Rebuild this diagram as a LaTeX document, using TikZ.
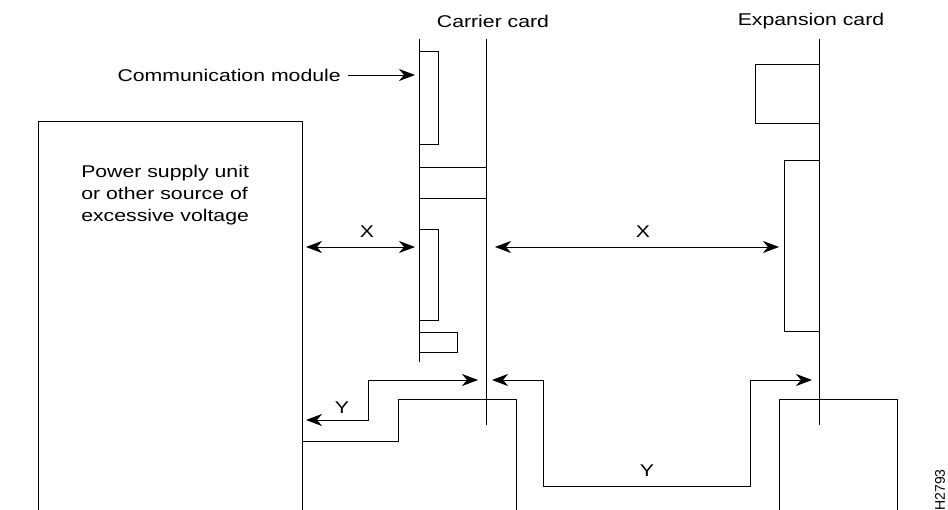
\documentclass[tikz,border=0pt]{standalone}
\usepackage{fontspec}
\setmainfont{Liberation Sans}
\usetikzlibrary{arrows.meta}

\tikzset{
  lbl/.style={inner sep=0pt, xscale=1.25, font=\fontsize{17}{22}\selectfont},
  wire/.style={line width=0.8pt},
  part/.style={line width=1pt},
  dim/.style={line width=0.8pt, >={Stealth[length=16pt,width=12pt,inset=5pt]}}
}

\begin{document}
\begin{tikzpicture}[x=1pt, y=-1pt]
            \useasboundingbox (0,0) rectangle (948,510);
            %schede
            \draw[wire] (486, 39) -- (486, 425);
            \draw[wire] (419, 39) -- (419, 362);
            \draw[wire] (819, 39) -- (819, 425);
            %componenti
            \draw[part] (419, 52) rectangle (438, 145);
            \draw[part] (419, 168) rectangle (486, 199);
            \draw[part] (419, 230) rectangle (438, 321);
            \draw[part] (419, 333) rectangle (457, 353);
            \draw[part] (755, 65) rectangle (819, 124);
            \draw[part] (784, 161) rectangle (819, 332);
            %alimentatore e pareti
            \draw[wire] (38, 510) -- (38, 121) -- (302, 121) -- (302, 510);
            \draw[wire] (302, 441) -- (398, 441) -- (398, 399) -- (516, 399) -- (516, 510);
            \draw[wire] (779, 510) -- (779, 399) -- (897, 399) -- (897, 510);
            %etichette
            \node[lbl] (carrier) at (493, 21) {Carrier card};
            \node[lbl] (expansion) at (811, 21) {Expansion card};
            \node[lbl, anchor=east] (commlbl) at (341, 75) {Communication module};
            \node[lbl, align=left, anchor=north west] (psu) at (81, 165) {Power supply unit\\or other source of\\excessive voltage};
            \node[lbl] (xleft) at (367, 232) {X};
            \node[lbl] (xright) at (643, 232) {X};
            \node[lbl] (yleft) at (342, 408) {Y};
            \node[lbl] (yright) at (647, 471) {Y};
            \node[inner sep=0pt, rotate=90, font=\fontsize{14}{16}\selectfont] (fig) at (940, 490) {H2793};
            %frecce
            \coordinate (commtip) at (415, 75);
            \coordinate (psuX) at (306, 247);
            \coordinate (modX) at (415, 247);
            \coordinate (carX) at (495, 247);
            \coordinate (expX) at (779, 247);
            \coordinate (psuY) at (306, 420);
            \coordinate (carYl) at (478, 380);
            \coordinate (carYr) at (492, 380);
            \coordinate (expY) at (812, 380);
            \draw[dim, ->] (commlbl.east) ++(7, 0) -- (commtip);
            \draw[dim, <->] (psuX) -- (modX);
            \draw[dim, <->] (carX) -- (expX);
            \draw[dim, <->] (carYl) -- (368, 380) -- (368, 420) -- (psuY);
            \draw[dim, <->] (carYr) -- (543, 380) -- (543, 486) -- (750, 486) -- (750, 380) -- (expY);
\end{tikzpicture}
\end{document}
